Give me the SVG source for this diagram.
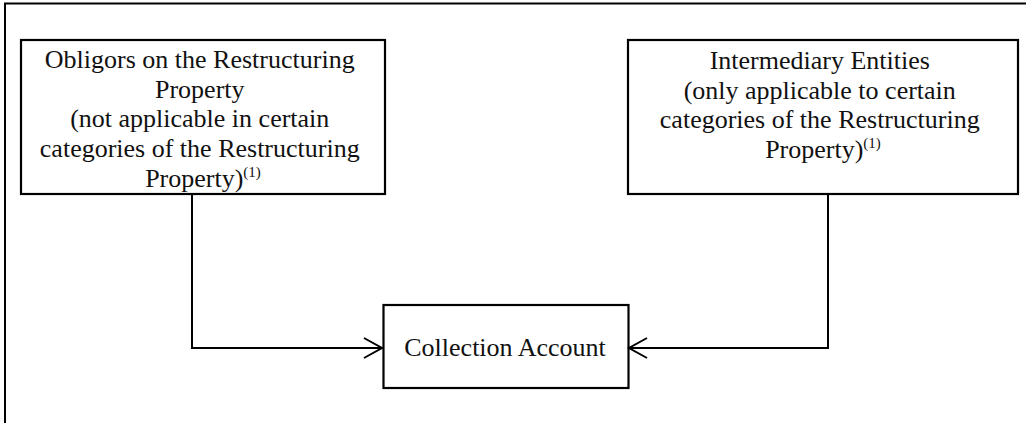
<svg xmlns="http://www.w3.org/2000/svg" width="1026" height="423" viewBox="0 0 1026 423">
  <style>
    .box { fill: #ffffff; stroke: #000000; stroke-width: 2.2; }
    .frame { fill: none; stroke: #000000; stroke-width: 2; }
    .lbl { font-family: "Liberation Serif", "Times New Roman", serif; font-size: 26px; fill: #111111; text-anchor: middle; }
    .sup { font-size: 15px; }
    .wire { fill: none; stroke: #000000; stroke-width: 2; }
    .head { fill: none; stroke: #000000; stroke-width: 2; stroke-linecap: butt; stroke-linejoin: miter; }
  </style>

  <rect width="1026" height="423" fill="#ffffff"/>

  <!-- outer frame (top and left edges) -->
  <path class="frame" d="M5,423 V3.5 H1026"/>

  <g id="obligors">
    <rect class="box" x="21" y="40" width="364" height="154"/>
    <text class="lbl">
      <tspan x="203" y="68">Obligors on the Restructuring</tspan>
      <tspan x="203" y="97.5">Property</tspan>
      <tspan x="203" y="127">(not applicable in certain</tspan>
      <tspan x="203" y="157">categories of the Restructuring</tspan>
      <tspan x="203" y="187">Property)<tspan class="sup" dy="-10">(1)</tspan></tspan>
    </text>
  </g>

  <g id="intermediary">
    <rect class="box" x="628" y="40" width="390" height="154"/>
    <text class="lbl">
      <tspan x="823" y="69">Intermediary Entities</tspan>
      <tspan x="823" y="98.5">(only applicable to certain</tspan>
      <tspan x="823" y="128">categories of the Restructuring</tspan>
      <tspan x="823" y="158">Property)<tspan class="sup" dy="-10">(1)</tspan></tspan>
    </text>
  </g>

  <g id="collection">
    <rect class="box" x="383.5" y="305" width="245" height="83"/>
    <text class="lbl" x="505" y="356">Collection Account</text>
  </g>

  <g id="connectors">
    <path class="wire" d="M192,194 V348 H383"/>
    <path class="head" d="M364,338 L382,348 L364,358"/>
    <path class="wire" d="M828,194 V348 H629"/>
    <path class="head" d="M647,338 L629,348 L647,358"/>
  </g>
</svg>
